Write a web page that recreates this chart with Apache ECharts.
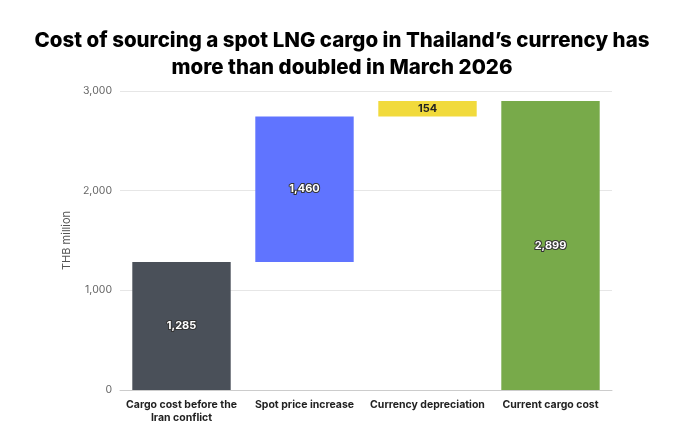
<!DOCTYPE html><html><head><meta charset="utf-8"><script src="https://cdn.jsdelivr.net/npm/echarts@6/dist/echarts.min.js"></script>
<style>body{margin:0}#c{width:684px;height:424px}</style></head><body><div id="c"></div><script>
const categories=["Cargo cost before the\nIran conflict","Spot price increase","Currency depreciation","Current cargo cost"];
const bases=[0,1285,2745,0];
const values=[1285,1460,154,2899];
const colors=["#4a5059","#6074ff","#f1da3c","#78aa4a"];
const labelColors=["#fff","#fff","#222","#fff"];
const chart=echarts.init(document.getElementById('c'));
chart.setOption({
 title:{text:"Cost of sourcing a spot LNG cargo in Thailand’s currency has\nmore than doubled in March 2026",left:'center',top:22,textStyle:{fontFamily:'Inter',fontWeight:800,fontSize:20.5,lineHeight:27,color:'#000'}},
 grid:{left:120,right:72,top:91,bottom:34},
 xAxis:{type:'category',data:categories,axisTick:{show:false},axisLine:{lineStyle:{color:'#ccc'}},axisLabel:{interval:0,fontFamily:'Inter',fontSize:10.5,fontWeight:'bold',color:'#222',lineHeight:13}},
 yAxis:{type:'value',min:0,max:3000,interval:1000,name:'THB million',nameLocation:'middle',nameGap:42,nameTextStyle:{fontFamily:'Inter',fontSize:11,color:'#555'},axisLabel:{fontFamily:'Inter',fontSize:10.5,color:'#666',formatter:v=>v.toLocaleString('en-US')},splitLine:{lineStyle:{color:'#e6e6e6'}}},
 series:[
  {type:'bar',stack:'w',data:bases,itemStyle:{color:'transparent'},barWidth:'80%',silent:true},
  {type:'bar',stack:'w',barWidth:'80%',data:values.map((v,i)=>({value:v,itemStyle:{color:colors[i]},label:{color:labelColors[i],textBorderColor:i==2?'transparent':'#333',textBorderWidth:i==2?0:2}})),
   label:{show:true,position:'inside',fontFamily:'Inter',fontWeight:'bold',fontSize:11,formatter:p=>p.value.toLocaleString('en-US')}}
 ]
});
</script></body></html>
